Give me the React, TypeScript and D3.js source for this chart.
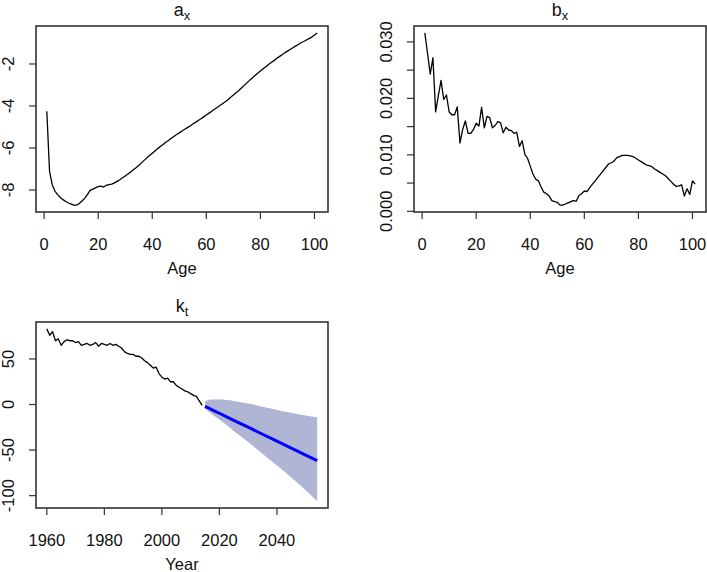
import React from "react";
import * as d3 from "d3";

const ages = d3.range(1, 102);
const ax = [
  -4.25, -7.1, -7.75, -8.05, -8.22, -8.36, -8.46, -8.55, -8.62, -8.67,
  -8.72, -8.72, -8.64, -8.52, -8.4, -8.22, -8.02, -7.96, -7.9, -7.84,
  -7.82, -7.86, -7.77, -7.75, -7.72, -7.66, -7.59, -7.51, -7.42, -7.33,
  -7.24, -7.14, -7.04, -6.94, -6.83, -6.71, -6.59, -6.47, -6.36, -6.25,
  -6.14, -6.03, -5.93, -5.83, -5.73, -5.64, -5.54, -5.45, -5.36, -5.28,
  -5.19, -5.11, -5.03, -4.95, -4.86, -4.78, -4.69, -4.61, -4.52, -4.43,
  -4.34, -4.25, -4.16, -4.07, -3.98, -3.89, -3.8, -3.7, -3.59, -3.48,
  -3.37, -3.26, -3.14, -3.02, -2.9, -2.78, -2.67, -2.55, -2.44, -2.33,
  -2.23, -2.13, -2.03, -1.93, -1.84, -1.74, -1.65, -1.56, -1.47, -1.39,
  -1.31, -1.23, -1.15, -1.07, -0.99, -0.93, -0.86, -0.79, -0.72, -0.62,
  -0.52,
];
const bx = [
  0.0316, 0.028, 0.0243, 0.0272, 0.0176, 0.0205, 0.0232, 0.0198, 0.0206, 0.0176,
  0.0171, 0.0171, 0.0185, 0.0121, 0.0145, 0.016, 0.0138, 0.0138, 0.0145, 0.0156,
  0.0151, 0.0184, 0.0148, 0.0168, 0.0166, 0.0148, 0.0152, 0.0159, 0.0157, 0.0139,
  0.0149, 0.0144, 0.0143, 0.0138, 0.014, 0.0115, 0.0125, 0.0101, 0.0094, 0.008,
  0.0066, 0.0057, 0.0054, 0.0043, 0.0034, 0.0031, 0.0027, 0.0019, 0.0017, 0.0016,
  0.0011, 0.0011, 0.0013, 0.0015, 0.0017, 0.0019, 0.0018, 0.0028, 0.0031, 0.0036,
  0.0035, 0.0042, 0.0048, 0.0054, 0.006, 0.0066, 0.0072, 0.0078, 0.0084, 0.0086,
  0.0089, 0.0095, 0.0097, 0.0099, 0.0099, 0.0099, 0.0098, 0.0097, 0.0094, 0.0091,
  0.0088, 0.0085, 0.0082, 0.0081, 0.0079, 0.0075, 0.0072, 0.0069, 0.0066, 0.0063,
  0.0058, 0.0053, 0.0048, 0.0044, 0.0045, 0.0047, 0.0027, 0.004, 0.003, 0.0054,
  0.0048,
];
const years = d3.range(1960, 2015);
const kt = [
  83, 76, 80, 70, 72, 65, 69, 71, 70, 70,
  68, 69, 65, 66, 67, 65, 66, 68, 64, 67,
  66, 65, 67, 65, 66, 64, 62, 58, 56, 55,
  55, 53, 53, 51, 48, 46, 43, 40, 41, 34,
  30, 28, 29, 25, 25, 21, 19, 17, 15, 14,
  12, 10, 9, 4, -1,
];
const fcYears = [2015, 2016, 2018, 2020, 2025, 2030, 2035, 2040, 2045, 2050, 2054];
const fcMean = [-2, -3.5, -6.6, -9.6, -17.3, -24.9, -32.6, -40.2, -47.8, -55.5, -61.6];
const fcUpper = [3, 5, 5.5, 5.5, 4, 1, -2.5, -6, -9, -12, -14];
const fcLower = [-4.5, -7, -12, -16.5, -29, -41, -54, -67, -80, -94, -106];

const ageTicks = [0, 20, 40, 60, 80, 100];
const axTicks = [-8, -6, -4, -2];
const bxTicks = [0, 0.005, 0.01, 0.015, 0.02, 0.025, 0.03];
const bxLabels = ["0.000", "", "0.010", "", "0.020", "", "0.030"];
const yearTicks = [1960, 1980, 2000, 2020, 2040];
const ktTicks = [-100, -50, 0, 50];

const FONT = "'Liberation Sans', Arial, Helvetica, sans-serif";
const FS = 16.5;

function rDomain(vals: number[]): [number, number] {
  const [lo, hi] = d3.extent(vals) as [number, number];
  const pad = (hi - lo) * 0.04;
  return [lo - pad, hi + pad];
}

type Box = { x0: number; x1: number; y0: number; y1: number };

function Frame({
  box, xs, ys, xt, yt, ylab, title, sub, xlabel,
}: {
  box: Box; xs: any; ys: any; xt: number[]; yt: number[]; ylab: string[];
  title: string; sub: string; xlabel: string;
}) {
  const cx = (box.x0 + box.x1) / 2;
  return (
    <g fontFamily={FONT}>
      <rect x={box.x0} y={box.y0} width={box.x1 - box.x0} height={box.y1 - box.y0}
        fill="none" stroke="#333" strokeWidth={1.6} />
      {xt.map((t) => (
        <g key={"x" + t}>
          <line x1={xs(t)} x2={xs(t)} y1={box.y1} y2={box.y1 + 7} stroke="#333" strokeWidth={1.2} />
          <text x={xs(t)} y={box.y1 + 38} textAnchor="middle" fontSize={FS} fill="#111">{t}</text>
        </g>
      ))}
      {yt.map((t, i) => (
        <g key={"y" + t}>
          <line x1={box.x0 - 7} x2={box.x0} y1={ys(t)} y2={ys(t)} stroke="#333" strokeWidth={1.2} />
          {ylab[i] ? (
            <text transform={`translate(${box.x0 - 22},${ys(t)}) rotate(-90)`} textAnchor="middle"
              fontSize={FS} fill="#111">{ylab[i]}</text>
          ) : null}
        </g>
      ))}
      <text x={cx} y={box.y1 + 62} textAnchor="middle" fontSize={FS} fill="#111">{xlabel}</text>
      <text x={cx} y={box.y0 - 10} textAnchor="middle" fontSize={18} fill="#111">
        {title}
        <tspan fontSize={13} dy={4}>{sub}</tspan>
      </text>
    </g>
  );
}

export default function App() {
  const b1: Box = { x0: 36, x1: 328, y0: 26, y1: 212 };
  const b2: Box = { x0: 414, x1: 706, y0: 26, y1: 212 };
  const b3: Box = { x0: 36, x1: 328, y0: 322, y1: 508 };

  const x1 = d3.scaleLinear().domain(rDomain(ages)).range([b1.x0, b1.x1]);
  const y1 = d3.scaleLinear().domain(rDomain(ax)).range([b1.y1, b1.y0]);
  const x2 = d3.scaleLinear().domain(rDomain(ages)).range([b2.x0, b2.x1]);
  const y2 = d3.scaleLinear().domain(rDomain(bx)).range([b2.y1, b2.y0]);
  const x3 = d3.scaleLinear().domain(rDomain([...years, ...fcYears])).range([b3.x0, b3.x1]);
  const y3 = d3.scaleLinear().domain(rDomain([...kt, ...fcLower, ...fcUpper])).range([b3.y1, b3.y0]);

  const lineA = d3.line<number>().x((_, i) => x1(ages[i])).y((d) => y1(d))(ax) || "";
  const lineB = d3.line<number>().x((_, i) => x2(ages[i])).y((d) => y2(d))(bx) || "";
  const lineK = d3.line<number>().x((_, i) => x3(years[i])).y((d) => y3(d))(kt) || "";
  const band = d3.area<number>()
    .x((d) => x3(d))
    .y0((_, i) => y3(fcLower[i]))
    .y1((_, i) => y3(fcUpper[i]))
    .curve(d3.curveMonotoneX)(fcYears) || "";
  const lineF = d3.line<number>().x((_, i) => x3(fcYears[i])).y((d) => y3(d))(fcMean) || "";

  return (
    <svg width={707} height={572} style={{ position: "absolute", left: 0, top: 0, background: "#fff" }}>
      <rect width={707} height={572} fill="#fff" />
      <path d={lineA} fill="none" stroke="#000" strokeWidth={1.3} strokeLinejoin="round" />
      <path d={lineB} fill="none" stroke="#000" strokeWidth={1.3} strokeLinejoin="round" />
      <path d={band} fill="#b1b5d4" stroke="none" />
      <path d={lineK} fill="none" stroke="#000" strokeWidth={1.3} strokeLinejoin="round" />
      <path d={lineF} fill="none" stroke="#0000ff" strokeWidth={3} />
      <Frame box={b1} xs={x1} ys={y1} xt={ageTicks} yt={axTicks}
        ylab={axTicks.map(String)} title="a" sub="x" xlabel="Age" />
      <Frame box={b2} xs={x2} ys={y2} xt={ageTicks} yt={bxTicks}
        ylab={bxLabels} title="b" sub="x" xlabel="Age" />
      <Frame box={b3} xs={x3} ys={y3} xt={yearTicks} yt={ktTicks}
        ylab={ktTicks.map(String)} title="k" sub="t" xlabel="Year" />
    </svg>
  );
}
